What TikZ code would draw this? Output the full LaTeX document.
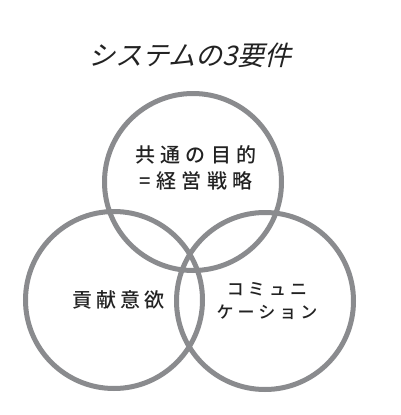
\documentclass[tikz,border=0pt]{standalone}
\usepackage{fontspec}
\newfontfamily\jpfont[LetterSpace=27]{Noto Sans CJK JP Medium}
\newfontfamily\jpfontb[LetterSpace=20]{Noto Sans CJK JP Medium}
\newfontfamily\jpfontc[LetterSpace=24]{Noto Sans CJK JP Medium}
\newfontfamily\jptitle[FakeSlant=0.25]{Noto Sans CJK JP}
\definecolor{ringgray}{HTML}{8A8B8E}
\definecolor{txt}{HTML}{222222}
\begin{document}
\begin{tikzpicture}[x=1pt,y=-1pt,
  ring/.style={draw=ringgray,line width=5pt,circle,minimum size=177pt,inner sep=0pt},
  lbl/.style={text=txt,align=center,inner sep=0pt},
  ttl/.style={text=txt,font=\jptitle\fontsize{27}{30}\selectfont}]
\useasboundingbox (0,0) rectangle (400,415);
\node[ring] (top) at (193,182) {};
\node[ring] (left) at (114,300) {};
\node[ring] (right) at (265,301) {};
\node[ttl] (title) at (190,55) {システムの3要件};
\node[lbl,font=\jpfont\fontsize{20}{26}\selectfont] (goal) at (196,168) {共通の目的\\=経営戦略};
\node[lbl,font=\jpfontb\fontsize{20}{26}\selectfont] (will) at (118,300) {貢献意欲};
\node[lbl,font=\jpfontc\fontsize{17}{23}\selectfont] (comm) at (267,301) {コミュニ\\ケーション};
\end{tikzpicture}
\end{document}
